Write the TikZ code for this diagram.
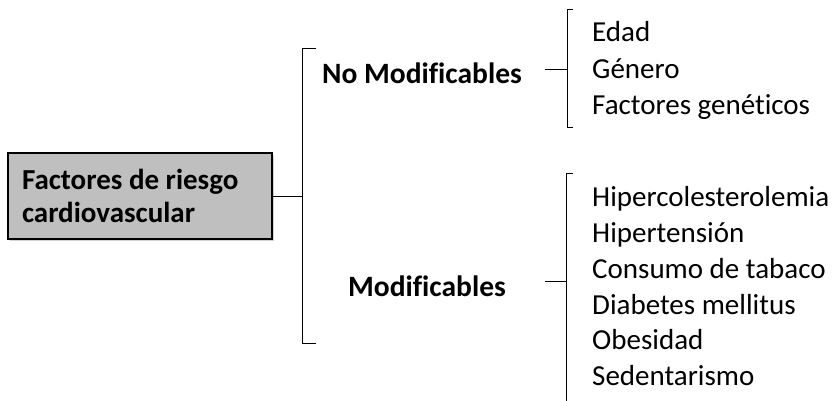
\documentclass[tikz,border=0pt]{standalone}
\usepackage{fontspec}
\setmainfont[Ligatures=NoCommon]{Carlito}
\usetikzlibrary{shadows}
\definecolor{boxgray}{HTML}{BFBFBF}
\tikzset{
  rootbox/.style={draw, line width=1.2pt, fill=boxgray, align=flush left,
    text width=236pt, inner xsep=14pt, inner ysep=0pt, minimum height=86pt,
    font=\fontsize{29}{33}\selectfont\bfseries,
    drop shadow={shadow xshift=2pt, shadow yshift=-2pt, opacity=0.35}},
  group/.style={anchor=base, inner sep=0pt, font=\fontsize{29.5}{34}\selectfont\bfseries},
  item/.style={anchor=base west, inner sep=0pt, font=\fontsize{29}{33}\selectfont},
  brace/.style={line width=1pt}
}
\begin{document}
\begin{tikzpicture}[x=1pt,y=-1pt]
      \useasboundingbox (0,0) rectangle (836,401);
      % root
      \node[rootbox] (root) at (140,196) {Factores de riesgo\\cardiovascular};
      \coordinate (mid) at (302,197);
      \draw[brace] (root.east |- mid) -- (mid);
      \draw[brace] (316,49) -- (302,49) -- (302,343) -- (316,343);
      % groups
      \node[group] (nomod) at (422,84) {No Modificables};
      \node[group] (mod) at (427,296) {Modificables};
      % no modificables
      \coordinate (nmtick) at (567,70);
      \draw[brace] (545,70) -- (nmtick);
      \draw[brace] (573,10) -- (567,10) -- (567,128) -- (573,128);
      \foreach \t [count=\i] in {Edad, Género, Factores genéticos}
        \node[item] (nm\i) at (592,42+36.5*\i-36.5) {\t};
      % modificables
      \coordinate (mtick) at (566,281);
      \draw[brace] (545,281) -- (mtick);
      \draw[brace] (573,174) -- (566,174) -- (566,420);
      \foreach \t [count=\i] in {Hipercolesterolemia, Hipertensión, Consumo de tabaco,
          Diabetes mellitus, Obesidad, Sedentarismo}
        \node[item] (m\i) at (592,207+35.7*\i-35.7) {\t};
   \end{tikzpicture}
\end{document}
